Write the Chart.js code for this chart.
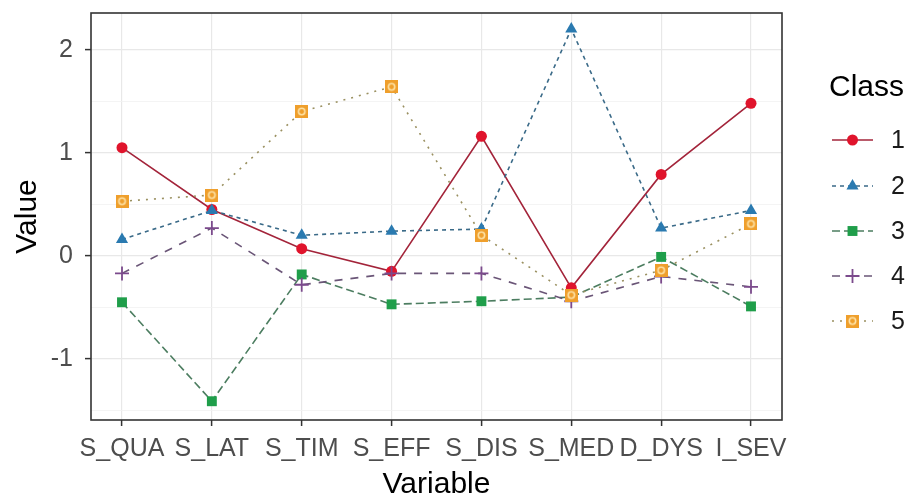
<!DOCTYPE html>
<html>
<head>
<meta charset="utf-8">
<script src="https://cdn.jsdelivr.net/npm/chart.js@4/dist/chart.umd.min.js"></script>
<style>
  html, body { margin: 0; padding: 0; background: #fff; }
  #wrap { width: 916px; height: 497px; }
</style>
</head>
<body>
<div id="wrap"><canvas id="chart" width="916" height="497"></canvas></div>
<script>
const categories = ['S_QUA', 'S_LAT', 'S_TIM', 'S_EFF', 'S_DIS', 'S_MED', 'D_DYS', 'I_SEV'];
const classNames = ['1', '2', '3', '4', '5'];
const class1 = [1.05, 0.45, 0.07, -0.15, 1.16, -0.31, 0.79, 1.48];
const class2 = [0.16, 0.44, 0.20, 0.24, 0.26, 2.20, 0.27, 0.44];
const class3 = [-0.45, -1.41, -0.18, -0.47, -0.44, -0.40, -0.01, -0.49];
const class4 = [-0.17, 0.27, -0.28, -0.17, -0.17, -0.44, -0.20, -0.30];
const class5 = [0.53, 0.59, 1.40, 1.64, 0.20, -0.38, -0.14, 0.31];
const yTicks = [-1.5, -1, -0.5, 0, 0.5, 1, 1.5, 2];

const FONT = "'Liberation Sans', Arial, sans-serif";

// orange square with a light ring, like the ggplot marker in the picture
const squareRing = (() => {
    const c = document.createElement('canvas');
    c.width = 13; c.height = 13;
    const g = c.getContext('2d');
    g.fillStyle = '#ef9f2c';
    g.fillRect(0, 0, 13, 13);
    g.strokeStyle = '#fde2a6';
    g.lineWidth = 1.6;
    g.beginPath();
    g.arc(6.5, 6.5, 3.2, 0, Math.PI * 2);
    g.stroke();
    return c;
})();

const toPoints = (values) => values.map((v, i) => ({ x: i, y: v }));

const series = [
    { values: class1, line: '#a3243a', mark: '#e0142c', dash: [], style: 'circle', radius: 5.5 },
    { values: class2, line: '#3a6a88', mark: '#2a7ab0', dash: [4, 4], style: 'triangle', radius: 7 },
    { values: class3, line: '#4c7d60', mark: '#1f9e4a', dash: [8, 4], style: 'rect', radius: 7 },
    { values: class4, line: '#6a5577', mark: '#7b4a8c', dash: [8, 8], style: 'cross', radius: 7 },
    { values: class5, line: '#9a9060', mark: '#ef9f2c', dash: [2, 6], style: squareRing, radius: 6 },
];

const datasets = series.map((s, i) => ({
    label: classNames[i],
    data: toPoints(s.values),
    borderColor: s.line,
    borderWidth: 1.6,
    borderDash: s.dash,
    pointStyle: s.style,
    pointRadius: s.radius,
    pointBackgroundColor: s.mark,
    pointBorderColor: s.mark,
    pointBorderWidth: s.style === 'cross' ? 1.8 : 0,
    tension: 0,
    fill: false,
    order: series.length - i,
}));

// panel border + legend on the right
const panelAndLegend = {
    id: 'panelAndLegend',
    afterDraw(chart) {
        const { ctx, chartArea } = chart;
        ctx.save();
        ctx.strokeStyle = '#333333';
        ctx.lineWidth = 1.6;
        ctx.strokeRect(chartArea.left, chartArea.top, chartArea.right - chartArea.left, chartArea.bottom - chartArea.top);

        ctx.fillStyle = '#000';
        ctx.font = `30px ${FONT}`;
        ctx.textBaseline = 'middle';
        ctx.textAlign = 'left';
        ctx.fillText('Class', 829, 88);

        const rowY = [140, 186, 231, 276, 321];
        chart.data.datasets.forEach((ds, i) => {
            const y = rowY[i];
            ctx.save();
            ctx.strokeStyle = ds.borderColor;
            ctx.lineWidth = ds.borderWidth;
            ctx.setLineDash(ds.borderDash);
            ctx.beginPath();
            ctx.moveTo(832, y);
            ctx.lineTo(873, y);
            ctx.stroke();
            ctx.restore();

            ctx.save();
            ctx.fillStyle = ds.pointBackgroundColor;
            ctx.strokeStyle = ds.pointBorderColor;
            ctx.lineWidth = ds.pointBorderWidth;
            Chart.helpers.drawPoint(ctx, {
                pointStyle: ds.pointStyle,
                radius: ds.pointRadius,
                rotation: 0,
                borderWidth: ds.pointBorderWidth,
            }, 852.5, y);
            ctx.restore();

            ctx.fillStyle = '#1a1a1a';
            ctx.font = `25px ${FONT}`;
            ctx.fillText(ds.label, 891, y + 1);
        });
        ctx.restore();
    },
};

const isMajor = (v) => Number.isInteger(v);

new Chart(document.getElementById('chart'), {
    type: 'line',
    data: { datasets },
    options: {
        responsive: false,
        animation: false,
        events: [],
        layout: { padding: { left: 0, right: 134, top: 13, bottom: 0 } },
        plugins: {
            legend: { display: false },
            tooltip: { enabled: false },
        },
        scales: {
            x: {
                type: 'linear',
                min: -0.345,
                max: 7.345,
                afterBuildTicks: (scale) => {
                    scale.ticks = categories.map((_, i) => ({ value: i }));
                },
                afterFit: (scale) => {
                    scale.height = 77;
                    scale.paddingLeft = 0;
                    scale.paddingRight = 0;
                },
                ticks: {
                    autoSkip: false,
                    maxRotation: 0,
                    padding: 8,
                    color: '#4d4d4d',
                    font: { family: FONT, size: 25 },
                    callback: (v) => categories[v],
                },
                grid: {
                    color: '#e8e8e8',
                    lineWidth: 1.2,
                    tickLength: 6,
                    tickColor: '#333333',
                    tickWidth: 1.5,
                },
                border: { display: false },
                title: {
                    display: true,
                    text: 'Variable',
                    color: '#000',
                    font: { family: FONT, size: 30 },
                    padding: { top: 0, bottom: -6 },
                },
            },
            y: {
                min: -1.592,
                max: 2.356,
                afterBuildTicks: (scale) => {
                    scale.ticks = yTicks.map((v) => ({ value: v }));
                },
                afterFit: (scale) => {
                    scale.width = 91;
                    scale.paddingTop = 0;
                    scale.paddingBottom = 0;
                },
                ticks: {
                    padding: 12,
                    color: '#4d4d4d',
                    font: { family: FONT, size: 25 },
                    callback: (v) => (isMajor(v) ? v : ''),
                },
                grid: {
                    color: (ctx) => (isMajor(ctx.tick.value) ? '#e8e8e8' : '#f1f1f1'),
                    lineWidth: (ctx) => (isMajor(ctx.tick.value) ? 1.2 : 0.8),
                    tickLength: 6,
                    tickColor: (ctx) => (isMajor(ctx.tick.value) ? '#333333' : 'rgba(0,0,0,0)'),
                    tickWidth: 1.5,
                },
                border: { display: false },
                title: {
                    display: true,
                    text: 'Value',
                    color: '#000',
                    font: { family: FONT, size: 30 },
                    padding: { top: 10, bottom: 0 },
                },
            },
        },
    },
    plugins: [panelAndLegend],
});
</script>
</body>
</html>
